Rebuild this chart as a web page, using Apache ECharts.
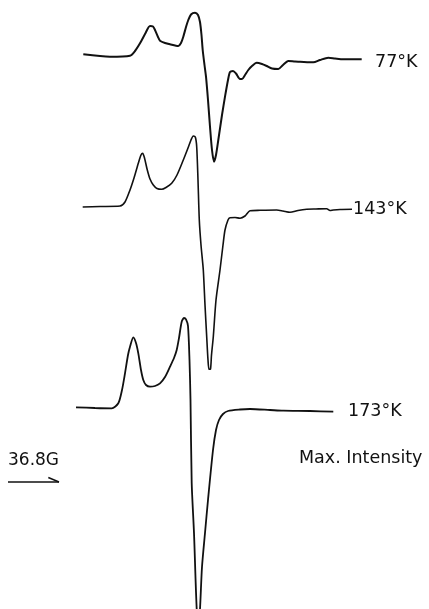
<!DOCTYPE html>
<html>
<head>
<meta charset="utf-8">
<script src="https://cdn.jsdelivr.net/npm/echarts@6/dist/echarts.min.js"></script>
<style>html,body{margin:0;padding:0;background:#fff;}#c{width:429px;height:609px;}</style>
</head>
<body>
<div id="c"></div>
<script>
// Field position (chart units) and recorder deflection (chart units, downward positive)
const field77 = [83.3,110,130,135,140,145,150,153,155,158,160,165,170,178.3,181,183.3,186,188.3,191,195,198,200,201.5,202.7,204.5,206,208,210,212,214,216,218.3,222,225,228,230,233,236,240,242,245,248.3,252,256.7,262,266.7,272,278.3,283,288.3,295,300,313.3,320,328.3,335,343.3,361.7];
const sig77   = [54.3,56.7,55.7,51,43.3,34,26,26.5,30,37,40.7,43,44.3,46,43,36.7,27,20,14.5,12.7,15,22,35,50,65,76.7,100,126.7,150,161.7,155,140,115,96.7,80,72,71,73.5,79,79,75,70,66,62.7,64,66,68.5,69,65,61,61.5,61.7,62.3,60,57.7,58.5,59.3,59.3];

const field143 = [82.7,100,120,125,130,134,138.3,141,142.7,144.5,147.3,150,153.3,157,161.7,166,171.7,177,183.3,188,191,193.3,195.3,196.7,198,199.3,201,203.3,205,206.7,208,209,210.5,211.5,213.3,216,220,223,225,228,230,235,240,245,250,260,276.7,283,290,298,306.7,316,326.7,330,333.3,340,352];
const sig143   = [207,206.5,206,202,190,178,163.3,155,153.3,158,170,179,185,188.5,189.3,187.5,183.3,175,160,148,140,136,137,146.7,180,220,245,270,305,336.7,360,369.3,369,355,336.7,300,270,245,230,220,217.7,217.5,218.3,216,210.7,210.3,210,211,212.3,210.5,209.3,209,208.7,210.5,210,209.5,209.3];

const field173 = [76,95,111.7,118.3,122,125,128,130,133.3,136,138.3,141,143.3,146,150,155,160,165,170,174,176.7,179,181.7,184,186,188,189.5,190.5,191.7,194,196.7,198.5,200,202,205,208,213,216,219,223,228,240,250,270,283.3,310,333.3];
const sig173   = [407.3,408,408.3,403.3,390,373.3,355,346.7,337.3,343,353.3,370,380,385,386.7,386,383.3,377,366.7,358,350,338,321.7,318,319.3,326,360,400,483,533,609,625,609,567,533,500,450,430,420,414,411,409.5,409,410,410.7,411,411.7];

const labels = ['77°K','143°K','173°K'];
const scaleBarText = '36.8G';
const noteText = 'Max. Intensity';
const scaleBar = [[8,482],[59,482]];
const scaleHead = [[48.3,477.5],[59,482]];

function pairs(xs, ys){ return xs.map((x,i)=>[x, ys[i]]); }

const chart = echarts.init(document.getElementById('c'), null, {renderer:'canvas'});
const lineBase = {type:'line', showSymbol:false, symbol:'none', smooth:0.25, clip:true, animation:false};
const font = 'DejaVu Sans';
const f = (s)=> s+'px "'+font+'"';
chart.setOption({
  backgroundColor:'#ffffff',
  animation:false,
  grid:{left:0,right:0,top:0,bottom:0},
  xAxis:{type:'value',min:0,max:429,show:false},
  yAxis:{type:'value',min:0,max:609,inverse:true,show:false},
  series:[
    Object.assign({}, lineBase, {name:labels[0], data:pairs(field77,sig77), lineStyle:{color:'#111',width:2}}),
    Object.assign({}, lineBase, {name:labels[1], data:pairs(field143,sig143), lineStyle:{color:'#111',width:1.6}}),
    Object.assign({}, lineBase, {name:labels[2], data:pairs(field173,sig173), lineStyle:{color:'#111',width:1.8}}),
    Object.assign({}, lineBase, {name:'bar', smooth:false, data:scaleBar, lineStyle:{color:'#111',width:1.5}}),
    Object.assign({}, lineBase, {name:'head', smooth:false, data:scaleHead, lineStyle:{color:'#111',width:1.5}})
  ],
  graphic:[
    {type:'text', left:375, top:53, style:{text:labels[0], font:f(17.5), fill:'#111'}},
    {type:'text', left:353, top:200, style:{text:labels[1], font:f(17.5), fill:'#111'}},
    {type:'text', left:348, top:402, style:{text:labels[2], font:f(17.5), fill:'#111'}},
    {type:'text', left:299, top:449, style:{text:noteText, font:f(17.5), fill:'#111'}},
    {type:'text', left:8, top:452, style:{text:scaleBarText, font:f(17), fill:'#111'}}
  ]
});
</script>
</body>
</html>
